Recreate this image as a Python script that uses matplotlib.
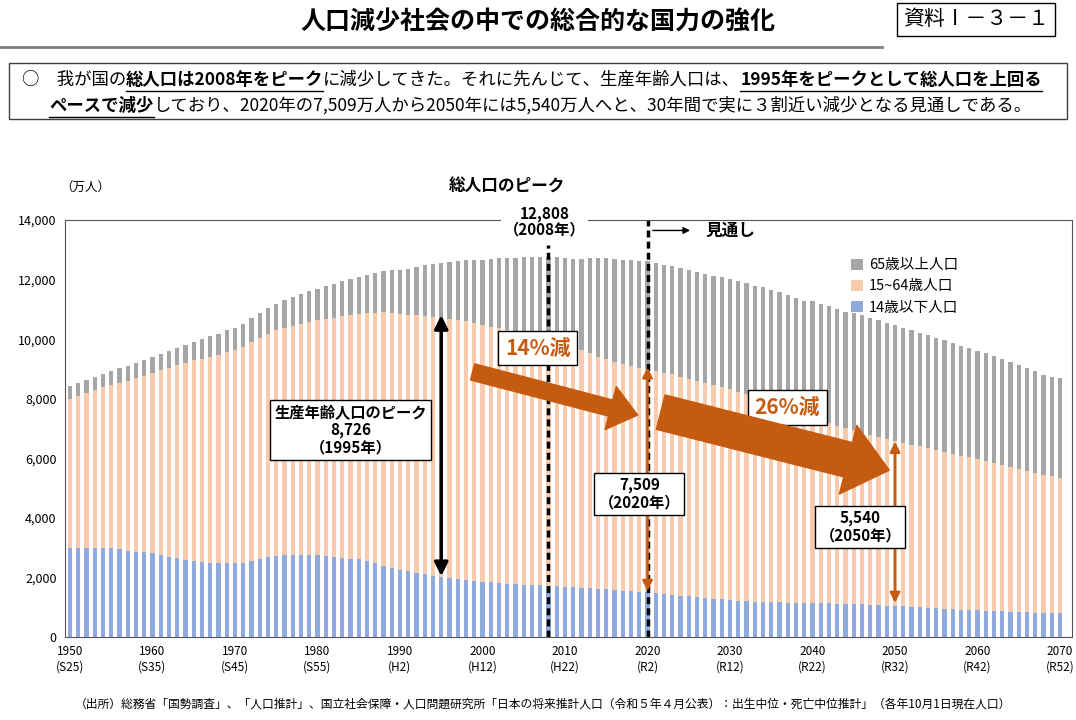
import matplotlib
matplotlib.use("Agg")
import matplotlib.pyplot as plt
from matplotlib.patches import Rectangle

plt.rcParams['font.family'] = ['Noto Sans CJK JP', 'DejaVu Sans']

years = list(range(1950, 2071))
young = [2979,2990,2995,3000,3000,2980,2950,2900,2870,2840,
         2807,2760,2700,2650,2600,2553,2520,2500,2490,2485,
         2482,2500,2560,2620,2680,2722,2740,2750,2760,2760,
         2751,2720,2690,2660,2630,2603,2540,2470,2400,2320,
         2249,2200,2150,2100,2050,2001,1970,1940,1910,1880,
         1847,1830,1810,1790,1775,1759,1745,1730,1718,1705,
         1684,1670,1655,1640,1623,1595,1578,1559,1542,1521,
         1503,1478,1450,1417,1388,1363,1337,1312,1287,1263,
         1240,1222,1205,1190,1178,1169,1162,1156,1151,1146,
         1142,1135,1128,1120,1112,1103,1091,1079,1066,1054,
         1041,1026,1011,996,981,966,951,936,922,907,
         893,881,869,858,847,836,828,820,812,804,
         797]
working = [5017,5100,5190,5280,5380,5473,5590,5700,5820,5930,
           6047,6190,6330,6470,6610,6744,6830,6910,6990,7070,
           7157,7250,7330,7410,7500,7581,7640,7700,7760,7820,
           7883,7950,8030,8110,8180,8251,8340,8420,8500,8550,
           8590,8620,8660,8690,8710,8726,8716,8705,8690,8660,
           8622,8590,8550,8510,8460,8409,8350,8290,8230,8150,
           8103,8040,7970,7900,7790,7728,7660,7600,7545,7507,
           7509,7450,7420,7400,7350,7310,7270,7220,7170,7120,
           7076,7010,6940,6870,6800,6722,6630,6530,6420,6310,
           6213,6130,6050,5980,5900,5832,5770,5710,5650,5590,
           5540,5490,5440,5400,5350,5307,5260,5210,5170,5120,
           5078,5030,4970,4920,4860,4809,4750,4700,4640,4590,
           4535]
old = [416,425,435,445,460,475,490,505,520,535,
       540,560,580,600,610,618,650,680,710,740,
       733,770,810,850,880,887,920,960,1000,1040,
       1065,1100,1140,1180,1220,1247,1290,1340,1390,1440,
       1489,1550,1620,1690,1760,1828,1900,1976,2051,2119,
       2204,2287,2363,2431,2488,2576,2660,2746,2822,2901,
       2948,2975,3079,3190,3300,3387,3459,3515,3558,3589,
       3603,3620,3628,3630,3640,3653,3663,3671,3678,3690,
       3696,3710,3725,3740,3760,3773,3790,3808,3825,3838,
       3929,3925,3920,3915,3905,3945,3940,3935,3925,3900,
       3888,3860,3840,3820,3800,3778,3750,3720,3690,3660,
       3644,3610,3580,3540,3510,3474,3440,3400,3360,3320,
       3367]
tick_years = list(range(1950, 2071, 10))
tick_eras = ['S25', 'S35', 'S45', 'S55', 'H2', 'H12', 'H22', 'R2', 'R12', 'R22', 'R32', 'R42', 'R52']

C_OLD, C_WORK, C_YOUNG = '#a6a6a6', '#f8cbad', '#8faadc'
ORANGE = '#c55a11'

fig = plt.figure(figsize=(10.76, 7.2), dpi=100)
ax = fig.add_axes([0.0604, 0.1153, 0.9359, 0.5791])

base2 = [y + w for y, w in zip(young, working)]
ax.bar(years, young, width=0.5, color=C_YOUNG, label='14歳以下人口')
ax.bar(years, working, width=0.5, bottom=young, color=C_WORK, label='15~64歳人口')
ax.bar(years, old, width=0.5, bottom=base2, color=C_OLD, label='65歳以上人口')
ax.set_xlim(1949.4, 2071.45)
ax.set_ylim(0, 14000)
ax.set_yticks(range(0, 14001, 2000))
ax.set_yticklabels([f'{v:,}' for v in range(0, 14001, 2000)], fontsize=9)
ax.set_xticks(tick_years)
ax.set_xticklabels([f'{y}\n({e})' for y, e in zip(tick_years, tick_eras)], fontsize=8.5)
ax.tick_params(length=0, pad=6)
for s in ax.spines.values():
    s.set_color('#555555')

h, l = ax.get_legend_handles_labels()
leg = ax.legend(h[::-1], l[::-1], loc='upper right', bbox_to_anchor=(0.90, 0.94), frameon=False,
                fontsize=10.5, handlelength=0.8, handleheight=0.8, labelspacing=0.5, handletextpad=0.4)

ax.text(-0.005, 1.07, '（万人）', transform=ax.transAxes, fontsize=9, ha='left')
ax.text(2003, 14950, '総人口のピーク', fontsize=12, fontweight='bold', ha='center')

# dashed lines
ax.plot([2008, 2008], [0, 13150], color='black', lw=2.5, ls=(0, (2, 1.2)))
ax.plot([2020, 2020], [0, 14000], color='black', lw=2.5, ls=(0, (2, 1.2)))
ax.text(2007.5, 13400, '12,808\n（2008年）', ha='center', va='bottom', fontsize=11, fontweight='bold',
        linespacing=1.0, bbox=dict(fc='white', ec='none', pad=2))
ax.annotate('', xy=(2025.5, 13650), xytext=(2020.3, 13650),
            arrowprops=dict(arrowstyle='-|>', color='black', lw=1))
ax.text(2027, 13650, '見通し', va='center', fontsize=12, fontweight='bold')

# double arrows
ax.annotate('', xy=(1995, 10900), xytext=(1995, 1950),
            arrowprops=dict(arrowstyle='<|-|>,head_width=0.4,head_length=0.8', color='black', lw=2.5))
ax.annotate('', xy=(2020, 9150), xytext=(2020, 1450),
            arrowprops=dict(arrowstyle='<|-|>,head_width=0.3,head_length=0.6', color=ORANGE, lw=1.8))
ax.annotate('', xy=(2050, 6650), xytext=(2050, 1050),
            arrowprops=dict(arrowstyle='<|-|>,head_width=0.3,head_length=0.6', color=ORANGE, lw=1.8))

box = dict(fc='white', ec='black', lw=1, pad=3)
ax.text(1984, 6950, '生産年齢人口のピーク\n8,726\n（1995年）', ha='center', va='center', fontsize=11,
        fontweight='bold', linespacing=1.1, bbox=box)
ax.text(2019, 4800, '7,509\n（2020年）', ha='center', va='center', fontsize=11,
        fontweight='bold', linespacing=1.1, bbox=box)
ax.text(2045.8, 3700, '5,540\n（2050年）', ha='center', va='center', fontsize=11,
        fontweight='bold', linespacing=1.1, bbox=box)
ax.text(2002.7, 9700, '14%減', ha='left', va='center', fontsize=15, fontweight='bold', color=ORANGE,
        bbox=dict(fc='white', ec='black', lw=1, pad=5))
ax.text(2033, 7700, '26%減', ha='left', va='center', fontsize=15, fontweight='bold', color=ORANGE,
        bbox=dict(fc='white', ec='black', lw=1, pad=5))

ax.annotate('', xy=(2018.8, 7450), xytext=(1998.8, 8900),
            arrowprops=dict(arrowstyle='simple,head_width=1.6,head_length=1.0,tail_width=0.6',
                            color=ORANGE, mutation_scale=20, shrinkA=0, shrinkB=0))
ax.annotate('', xy=(2049.3, 5600), xytext=(2021.6, 7550),
            arrowprops=dict(arrowstyle='simple,head_width=1.5,head_length=0.9,tail_width=0.75',
                            color=ORANGE, mutation_scale=34, shrinkA=0, shrinkB=0))

# header
fig.text(0.5, 0.968, '人口減少社会の中での総合的な国力の強化', ha='center', va='center',
         fontsize=18, fontweight='bold')
fig.text(0.975, 0.973, '資料Ⅰ－３－１', ha='right', va='center', fontsize=15,
         bbox=dict(fc='white', ec='black', lw=1, pad=4))
fig.add_artist(plt.Line2D([0.0, 0.82], [0.935, 0.935], color='#7f7f7f', lw=2))
fig.add_artist(Rectangle((0.008, 0.835), 0.984, 0.078, fill=False, ec='#404040', lw=1))

renderer = fig.canvas.get_renderer()


def seg_line(x, y, parts):
    for txt, bold in parts:
        t = fig.text(x, y, txt, fontsize=12.5, fontweight='bold' if bold else 'normal',
                     va='center', ha='left')
        bb = t.get_window_extent(renderer)
        x0 = x
        x += bb.width / fig.bbox.width
        if bold:
            fig.add_artist(plt.Line2D([x0, x], [y - 0.015, y - 0.015], color='black', lw=1))


seg_line(0.02, 0.889, [('○　我が国の', False), ('総人口は2008年をピーク', True),
                       ('に減少してきた。それに先んじて、生産年齢人口は、', False),
                       ('1995年をピークとして総人口を上回る', True)])
seg_line(0.046, 0.853, [('ペースで減少', True),
                        ('しており、2020年の7,509万人から2050年には5,540万人へと、30年間で実に３割近い減少となる見通しである。', False)])

fig.text(0.505, 0.022, '（出所）総務省「国勢調査」、「人口推計」、国立社会保障・人口問題研究所「日本の将来推計人口（令和５年４月公表）：出生中位・死亡中位推計」（各年10月1日現在人口）',
         ha='center', va='center', fontsize=8.5)

fig.savefig('out.png', dpi=100)
